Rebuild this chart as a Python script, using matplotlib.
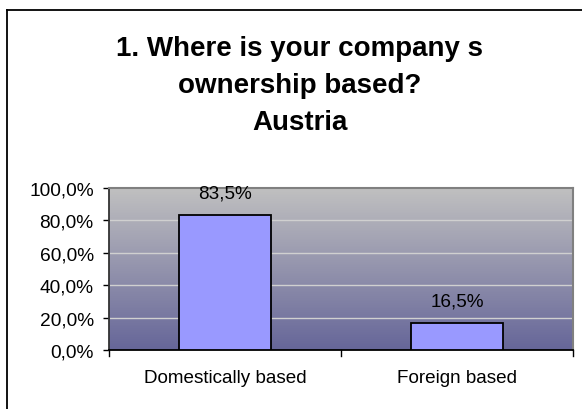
import numpy as np
import matplotlib
matplotlib.use("Agg")
import matplotlib.pyplot as plt
from matplotlib.colors import LinearSegmentedColormap
from matplotlib.lines import Line2D

categories = ["Domestically based", "Foreign based"]
values = [83.5, 16.5]
value_labels = ["83,5%", "16,5%"]
yticks = [0, 20, 40, 60, 80, 100]
ytick_labels = ["0,0%", "20,0%", "40,0%", "60,0%", "80,0%", "100,0%"]
title_lines = ["1. Where is your company s", "ownership based?", "Austria"]

W, H = 582, 410
fig = plt.figure(figsize=(W / 100, H / 100), dpi=100)
plt.rcParams['font.family'] = ['Liberation Sans', 'DejaVu Sans']

# outer chart border (top and left visible)
fig.add_artist(Line2D([7 / W, 7 / W], [0, 1 - 11 / H], transform=fig.transFigure, color='black', lw=1.3))
fig.add_artist(Line2D([7 / W, 1.0], [1 - 11 / H, 1 - 11 / H], transform=fig.transFigure, color='black', lw=1.3))

left, right, top, bottom = 109, 573, 189, 351
ax = fig.add_axes([left / W, 1 - bottom / H, (right - left) / W, (bottom - top) / H])

x = np.arange(len(categories))
ax.set_xlim(-0.5, len(categories) - 0.5)
ax.set_ylim(0, 100)

# gradient background
cmap = LinearSegmentedColormap.from_list("bg", ["#666699", "#c0c0c0"])
grad = np.linspace(0, 1, 256).reshape(-1, 1)
ax.imshow(grad, aspect='auto', cmap=cmap, extent=[-0.5, len(categories) - 0.5, 0, 100],
          origin='lower', zorder=0)

for yv in yticks[1:-1]:
    ax.axhline(yv, color='#d0d0d0', lw=1, zorder=1)

ax.bar(x, values, width=0.4, color='#9999ff', edgecolor='black', linewidth=1.3, zorder=3)
for xi, v, lab in zip(x, values, value_labels):
    ax.annotate(lab, (xi, v), xytext=(0, 16), textcoords='offset points',
                ha='center', va='center', fontsize=13.6, color='black')

ax.set_yticks(yticks)
ax.set_yticklabels(ytick_labels, fontsize=13.8)
ax.set_xticks(x)
ax.set_xticklabels(categories, fontsize=13.6)
ax.tick_params(axis='x', length=0, pad=14)
ax.tick_params(axis='y', length=4, width=1, direction='out', pad=7)
# category boundary ticks
for b in [-0.5, 0.5, 1.5]:
    ax.plot([b, b], [0, -3.5], color='black', lw=1, clip_on=False, zorder=4)

for s in ['top', 'right']:
    ax.spines[s].set_color('#808080')
    ax.spines[s].set_linewidth(1.5)
ax.spines['left'].set_color('#333333')
ax.spines['bottom'].set_color('black')
ax.spines['left'].set_linewidth(1.3)
ax.spines['bottom'].set_linewidth(1.3)

title_y = [56, 93, 130]
for line, yb in zip(title_lines, title_y):
    fig.text(300 / W, 1 - yb / H, line, ha='center', va='baseline',
             fontsize=20, fontweight='bold', color='black')

fig.savefig("out.png", dpi=100)
